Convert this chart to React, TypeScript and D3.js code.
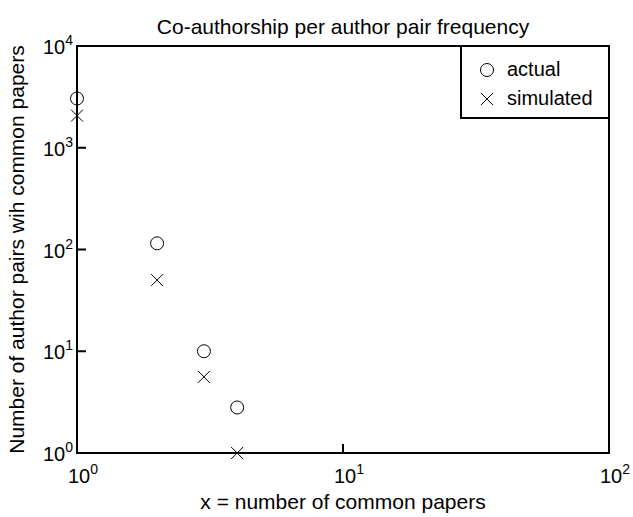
import React from 'react';
import * as d3 from 'd3';

const xValues = [1, 2, 3, 4];
const actual = [3050, 115, 10, 2.8];
const simulated = [2070, 50, 5.6, 1];
const xTicks = [1, 10, 100];
const yTicks = [1, 10, 100, 1000, 10000];

const W = 633;
const H = 517;
const margin = { left: 77, right: 24, top: 46, bottom: 64 };
const font = 'Arial, "Liberation Sans", Helvetica, sans-serif';

const Circle = ({ cx, cy }: { cx: number; cy: number }) => (
  <circle cx={cx} cy={cy} r={6.5} fill="none" stroke="#000" strokeWidth={1} />
);

const Cross = ({ cx, cy }: { cx: number; cy: number }) => {
  const s = 6;
  return (
    <path
      d={`M${cx - s},${cy - s}L${cx + s},${cy + s}M${cx - s},${cy + s}L${cx + s},${cy - s}`}
      stroke="#000"
      strokeWidth={1}
      fill="none"
    />
  );
};

// "10" with a superscript exponent
const Pow = ({ exp }: { exp: number }) => (
  <>
    10<tspan dy={-9} fontSize={14}>{exp}</tspan>
  </>
);

export default function App() {
  const x = d3.scaleLog().domain([1, 100]).range([margin.left, W - margin.right]);
  const y = d3.scaleLog().domain([1, 10000]).range([H - margin.bottom, margin.top]);
  const [x0, x1] = x.range();
  const [y0, y1] = y.range();

  return (
    <svg width={W} height={H} style={{ position: 'absolute', left: 0, top: 0, background: '#fff' }} fontFamily={font}>
      <rect width={W} height={H} fill="#fff" />
      <text x={(x0 + x1) / 2} y={34} textAnchor="middle" fontSize={21}>
        Co-authorship per author pair frequency
      </text>

      {/* inward ticks, bottom and left only */}
      {xTicks.slice(1, -1).map((t) => (
        <line key={'xt' + t} x1={x(t)} x2={x(t)} y1={y0} y2={y0 - 9} stroke="#000" strokeWidth={2} />
      ))}
      {yTicks.slice(1, -1).map((t) => (
        <line key={'yt' + t} x1={x0} x2={x0 + 9} y1={y(t)} y2={y(t)} stroke="#000" strokeWidth={2} />
      ))}

      {xTicks.map((t) => (
        <text key={'xl' + t} x={x(t) - 9} y={y0 + 30} fontSize={20}>
          <Pow exp={Math.round(Math.log10(t))} />
        </text>
      ))}
      {yTicks.map((t) => (
        <text key={'yl' + t} x={x0 - 4} y={y(t) + 8} textAnchor="end" fontSize={20}>
          <Pow exp={Math.round(Math.log10(t))} />
        </text>
      ))}

      {xValues.map((v, i) => (
        <Circle key={'a' + i} cx={x(v)} cy={y(actual[i])} />
      ))}
      {xValues.map((v, i) => (
        <Cross key={'s' + i} cx={x(v)} cy={y(simulated[i])} />
      ))}

      <rect x={x0} y={y1} width={x1 - x0} height={y0 - y1} fill="none" stroke="#000" strokeWidth={2} />

      <g>
        <rect x={461} y={y1} width={x1 - 461} height={72} fill="#fff" stroke="#000" strokeWidth={2} />
        <Circle cx={487} cy={70} />
        <text x={507} y={76} fontSize={20}>actual</text>
        <Cross cx={487} cy={99} />
        <text x={507} y={105} fontSize={20}>simulated</text>
      </g>

      <text x={(x0 + x1) / 2} y={509} textAnchor="middle" fontSize={21}>
        x = number of common papers
      </text>
      <text
        transform={`translate(24,${(y0 + y1) / 2}) rotate(-90)`}
        textAnchor="middle"
        fontSize={21}
      >
        Number of author pairs wih common papers
      </text>
    </svg>
  );
}
